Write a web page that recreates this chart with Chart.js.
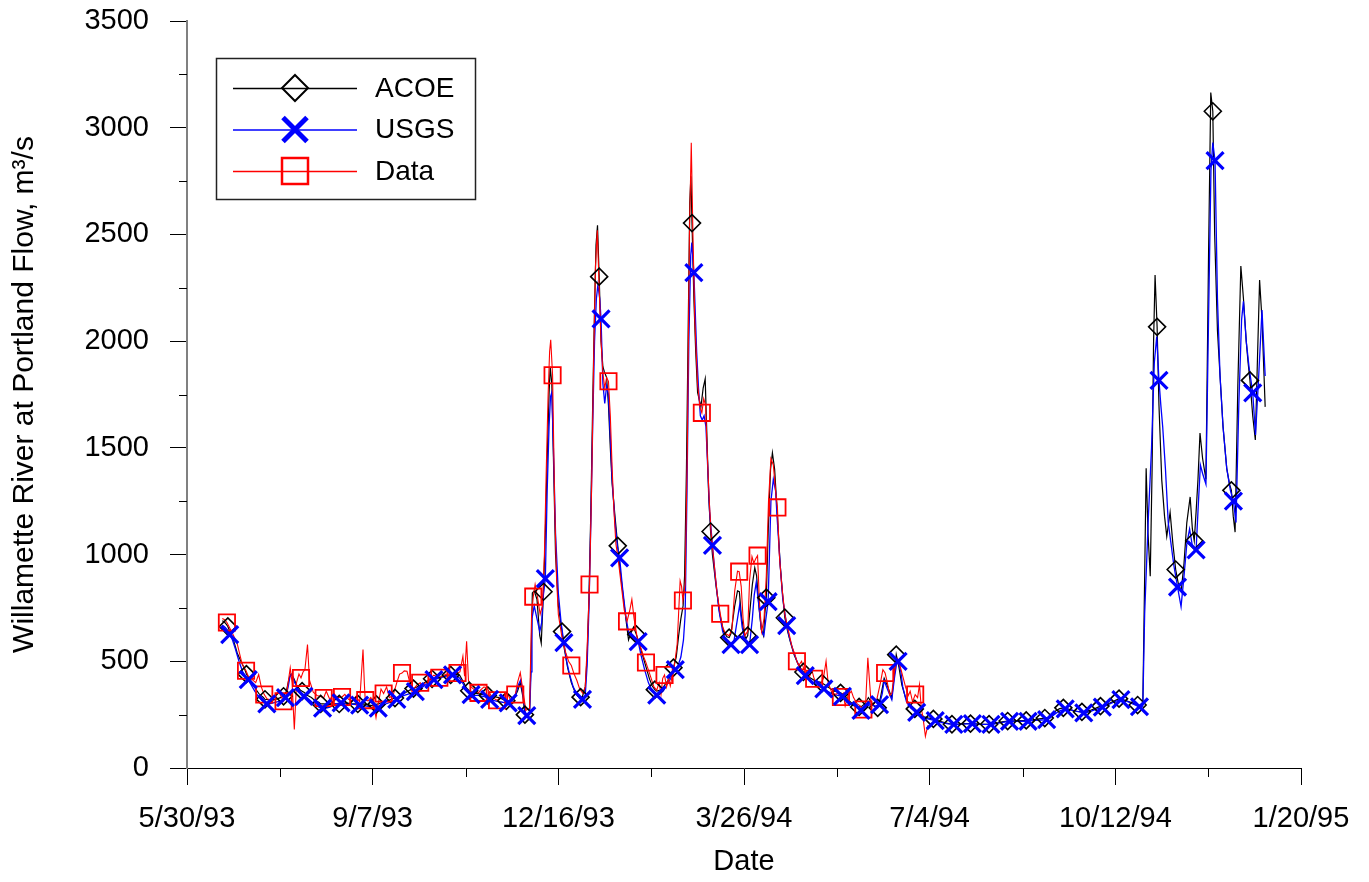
<!DOCTYPE html>
<html>
<head>
<meta charset="utf-8">
<script src="https://cdn.jsdelivr.net/npm/chart.js@4.4.1/dist/chart.umd.min.js"></script>
<style>
  html, body { margin: 0; padding: 0; background: #fff; }
  canvas { display: block; }
</style>
</head>
<body>
<canvas id="flow" width="1369" height="882"></canvas>
<script>
// x values are days counted from 5/30/93
var dateLabels = ['5/30/93', '9/7/93', '12/16/93', '3/26/94', '7/4/94', '10/12/94', '1/20/95'];
var seriesNames = ['ACOE', 'USGS', 'Data'];

// ACOE daily flow, m3/s  [day, flow]
var acoeLine = [[19,690],[20,685],[21,675],[23.5,630],[25,600],[27,540],[29,500],[31,465],[33.5,420],[35,400],[37,370],[39,345],[41,332],[43.5,320],[45,318],[47,320],[49,325],[51,332],[53.5,360],[55,420],[56,440],[57.5,420],[59,390],[61,365],[63,355],[65,340],[67,330],[69,315],[71,308],[73.5,300],[76,298],[79,300],[82.5,300],[86,305],[89,300],[92.5,298],[95,300],[98,295],[100,292],[103.5,302],[106,310],[109,318],[112.5,328],[115,340],[118,355],[120,365],[123.5,378],[126,390],[129,405],[133.5,420],[136,425],[139,432],[142.5,436],[145,440],[147,432],[149,400],[150.5,375],[153.5,355],[156,350],[159,345],[162.5,338],[165,335],[168,330],[171,318],[173.5,315],[176,325],[178,360],[179.5,400],[181,330],[183,245],[184.5,260],[185.3,500],[186,820],[187,830],[188.5,790],[190,620],[190.8,585],[193,1100],[194,1450],[195,1750],[195.6,1880],[196.5,1800],[197.5,1400],[198.5,1000],[200,760],[203,570],[205,470],[207,400],[209,355],[210.5,335],[213,335],[214.5,380],[215.5,520],[216.5,800],[217.5,1200],[218.5,1700],[219.5,2150],[220.3,2450],[221.1,2543],[223,2000],[224,1880],[224.8,1856],[226,1830],[227,1700],[228,1500],[229,1330],[230.5,1180],[233,950],[235,800],[236.5,690],[237.8,600],[239,630],[240.5,660],[243,600],[245,540],[247,480],[249,420],[250.5,385],[253,360],[255,365],[257,385],[259,410],[261,440],[263.5,520],[264.8,620],[266,700],[267.2,760],[268,900],[269,1400],[270,2100],[270.8,2650],[271.4,2773],[273,2200],[274,1950],[275,1760],[276.8,1692],[278,1780],[279.1,1823],[280,1560],[281,1270],[283,1000],[285,850],[287,720],[289,640],[290.8,615],[293,630],[295,760],[296.5,830],[297.5,826],[298.5,720],[300,630],[301,605],[303,720],[304.5,860],[305.8,938],[306.8,900],[308,760],[309.3,650],[310.5,620],[311.2,720],[313,1100],[314.3,1400],[315.3,1477],[316.5,1400],[318,1180],[319.5,950],[321,790],[323.5,640],[325,590],[327,530],[329,490],[331,460],[333.5,440],[336,420],[339,405],[341,402],[343.5,390],[346,375],[349,360],[351,355],[353.5,345],[356,320],[358.5,300],[361,288],[363,286],[365,300],[367,330],[368.5,310],[370,290],[371,285],[373.5,330],[375.5,420],[377,390],[379.6,328],[381,440],[383.5,470],[385,390],[387,330],[389,300],[393.5,265],[395,252],[397,240],[399,235],[403.5,225],[406,218],[409,210],[413.5,205],[416,206],[419,208],[423.5,208],[426,206],[429,205],[433.5,206],[436,210],[439,216],[443.5,220],[446,221],[449,222],[453.5,224],[456,226],[459,230],[463.5,236],[466,250],[468,268],[470,278],[473.5,280],[476,272],[479,266],[483.5,262],[486,268],[489,278],[493.5,292],[496,300],[499,312],[503.5,322],[506,315],[509,305],[513.5,292],[514.8,300],[515.8,900],[516.6,1404],[517.6,1100],[518.8,899],[519.8,1400],[520.6,2000],[521.4,2310],[523.5,1700],[525,1350],[526.5,1180],[527.7,1085],[529.5,1198],[531,1050],[534,860],[535.5,830],[537,960],[538.5,1150],[540.3,1270],[541.5,1120],[543.5,1200],[544.5,1350],[545.6,1569],[547,1450],[548.8,1352],[550.2,2400],[551.4,3165],[553.5,2500],[555,2050],[556.4,1837],[558,1600],[560,1404],[561.5,1330],[563.5,1180],[564.5,1105],[566,1800],[567.6,2352],[569,2200],[570.5,2000],[571.5,1900],[574,1650],[575.4,1537],[576.5,1900],[577.7,2286],[579,2100],[580.7,1692]];
var acoeMarkDays = [22,32,42,52,62,72,82,92,102,112,122,132,142,152,162,172,182,192,202,212,222,232,242,252,262,272,282,292,302,312,322,332,342,352,362,372,382,392,402,412,422,432,442,452,462,472,482,492,502,512,522.5,532.5,542.5,552.5,562.5,572.5];
var acoeMarkFlow = [663,440,322,336,360,300,300,300,298,328,372,418,436,362,340,315,250,826,639,332,2302,1041,626,367,470,2553,1108,611,620,798,704,450,398,352,286,282,531,277,230,205,208,205,220,223,234,282,263,290,325,295,2067,930,1065,3077,1301,1816];

// USGS daily flow, m3/s  [day, flow]
var usgsLine = [[19,670],[20.5,660],[22,645],[24.5,600],[26,560],[28,500],[30,450],[31.5,430],[34.5,390],[36.5,360],[38.5,335],[41,310],[44.5,300],[46.5,305],[48.5,310],[51,315],[54.5,380],[55.5,430],[56.5,440],[58,400],[60,370],[61.5,345],[64.5,330],[66.5,315],[68.5,300],[71,285],[74.5,280],[77,285],[80,300],[84.5,305],[87,300],[90,298],[94.5,292],[97,290],[100,282],[104.5,285],[107,300],[110,310],[114.5,330],[117,340],[120,348],[124.5,365],[127,380],[130,400],[134.5,418],[137,425],[140,432],[144.5,436],[147,420],[149,390],[151,360],[154.5,340],[157,340],[160,335],[164.5,318],[167,312],[170,308],[174.5,305],[176.5,330],[178.5,390],[179.8,414],[181,340],[182,270],[184.5,250],[185.3,450],[185.8,700],[187,760],[188.5,700],[190,640],[191,680],[191.8,800],[194,1300],[195,1600],[195.8,1740],[196.5,1760],[197.5,1450],[198.5,1100],[200,820],[201.5,680],[204.5,500],[206,440],[208,380],[210,345],[211.5,325],[214.5,340],[215.5,480],[216.5,750],[217.5,1150],[218.5,1600],[219.5,2000],[220.5,2200],[221.3,2263],[222.3,2200],[224,1800],[225,1708],[226,1790],[227,1750],[228,1550],[229,1350],[230.5,1150],[231.8,1040],[234.5,850],[236.5,700],[238,630],[240,610],[241.5,605],[244.5,530],[246.5,460],[248.5,400],[250.5,360],[254.5,345],[256.5,360],[258.5,390],[260.5,420],[262,450],[264.5,480],[266,520],[267.4,600],[268.3,720],[269.3,1300],[270.3,2000],[271.3,2400],[271.9,2462],[274.5,1950],[275.5,1780],[276.5,1650],[277.5,1630],[278.5,1650],[279.5,1600],[280.5,1400],[281.5,1200],[284.5,900],[286.5,740],[288.5,640],[290.5,590],[294.5,590],[296.5,700],[297.7,765],[299,660],[300.5,595],[301.5,580],[304.5,700],[305.5,810],[306.6,870],[308,760],[309.5,640],[310.7,620],[311.8,700],[314.5,1250],[315.8,1353],[317,1300],[318,1150],[319.5,950],[320.8,800],[324.5,610],[326.5,550],[328.5,500],[330.5,460],[334.5,420],[336.5,405],[338.5,395],[340.5,385],[344.5,362],[346.5,352],[348.5,345],[350.5,340],[354.5,320],[356.5,305],[358.5,295],[360.5,285],[362,275],[364.5,268],[366.5,290],[368.5,300],[370.5,290],[374.5,350],[375.5,410],[377,375],[379.6,320],[381,420],[382.2,490],[384.5,450],[385.5,380],[387.5,310],[390,280],[394.5,250],[396.5,238],[399,230],[404.5,218],[407,212],[410,207],[414.5,205],[417,206],[420,207],[424.5,207],[427,205],[430,204],[434.5,206],[437,210],[440,215],[444.5,219],[447,219],[450,219],[454.5,221],[457,223],[460,225],[464.5,232],[467,250],[470,268],[474.5,276],[477,270],[480,264],[484.5,260],[487,266],[490,276],[494.5,290],[497,300],[500,312],[504.5,318],[507,310],[510,298],[514.8,290],[515.8,724],[517.8,1177],[519.5,1500],[521,1900],[522.3,2022],[524.5,1700],[525.5,1600],[527,1400],[528.5,1150],[530,1050],[531.5,950],[535.4,756],[537,900],[538.5,1050],[540,1120],[541.5,1040],[544.5,1200],[545.8,1420],[547,1380],[548.8,1330],[550.2,2100],[551.5,2800],[552.5,2930],[555,2200],[556.4,1837],[558,1600],[560,1404],[562,1300],[565,1150],[566.5,1700],[568,2100],[569,2187],[570.5,2000],[572,1880],[575.5,1560],[577,1800],[579,2146],[580.7,1837]];
var usgsMarkDays = [23,33,43,53,63,73,83,93,103,113,123,133,143,153,163,173,183,193,203,213,223,233,243,253,263,273,283,293,303,313,323,333,343,353,363,373,383,393,403,413,423,433,443,453,463,473,483,493,503,513,523.5,533.5,543.5,553.7,563.6,574];
var usgsMarkFlow = [625,414,300,330,336,280,305,295,280,322,358,414,436,344,322,305,245,887,587,322,2104,985,592,341,461,2321,1043,578,578,779,667,433,371,336,270,297,500,261,222,204,208,204,219,219,227,277,258,285,320,287,1816,848,1022,2846,1250,1758];

// measured data, m3/s  [day, flow]
var dataLine = [[19,700],[20.3,695],[22.8,660],[24.5,630],[26.9,587],[29.6,490],[30.8,470],[33,430],[35,415],[37,400],[38.6,438],[40,380],[43,325],[45,318],[47,330],[49.3,360],[50.7,335],[53.5,340],[55.6,469],[56.6,400],[57.8,180],[59,400],[60.3,440],[62.5,450],[63.5,460],[64.9,578],[66,410],[68,355],[70,340],[72,335],[75,360],[77,320],[79,350],[81,330],[85,345],[87,322],[89,315],[91,335],[93,310],[94.8,555],[95.5,400],[97.5,315],[99,330],[100.5,300],[101.8,236],[103,300],[104.5,370],[107.5,380],[109,330],[111,340],[113,400],[114.5,440],[117,455],[118.5,453],[120,400],[122,370],[124,390],[127,385],[129,405],[131,420],[133,435],[137.5,430],[139.5,440],[141.5,430],[143.5,440],[147,450],[148.6,523],[149.5,430],[150.6,594],[151.6,410],[153,380],[155,365],[158.3,367],[160,380],[162,370],[164,335],[165.5,325],[168.5,330],[170.5,340],[172.5,350],[174.5,315],[178,400],[179.5,447],[180.8,370],[182.5,270],[184.5,280],[185.6,720],[187.5,860],[188.8,800],[190.2,720],[191.4,760],[192.5,1000],[193.5,1400],[194.5,1750],[195.3,1950],[195.9,2006],[198,1250],[199,900],[200,720],[202,610],[204,540],[205.5,500],[208.5,440],[210,410],[211.5,370],[213.2,350],[214.5,380],[215.5,560],[218,1350],[219,1900],[220,2350],[221,2520],[221.8,2300],[223,2000],[224,1850],[225,1780],[226,1830],[228,1650],[229,1400],[230,1200],[231,1050],[232.2,980],[234,850],[235.5,740],[238.5,740],[239.6,790],[240.8,700],[242.5,610],[244.5,560],[246,520],[248.5,460],[250,420],[251.5,380],[253,365],[254.3,400],[255.3,345],[256.2,420],[258.3,380],[259.3,420],[260.3,385],[261.3,430],[262.5,480],[264,580],[265.6,877],[266.4,850],[268.3,860],[269.5,1500],[270.6,2500],[271.6,2930],[272.5,2500],[273.5,2100],[275,1800],[276.3,1690],[278.3,1730],[279.3,1700],[280.3,1450],[281.3,1250],[282.3,1100],[284,950],[285.5,820],[288.5,660],[290,630],[292,620],[293.5,650],[295,830],[296.5,922],[298.5,850],[299.5,700],[300.5,620],[302,640],[303,880],[304.3,990],[305.3,960],[306.3,980],[308.3,780],[309.5,640],[310.8,700],[312,900],[313.2,1250],[314.5,1450],[315.8,1420],[317,1300],[319,1000],[320.3,860],[322,720],[324,640],[325.8,570],[327.5,530],[329.5,480],[331,500],[333,440],[335,420],[336.5,460],[339,400],[341,390],[342.8,420],[344.2,500],[345.3,400],[347,360],[349,345],[350.8,350],[353.5,350],[354.5,290],[356,340],[357.8,360],[359,330],[361,300],[362.8,290],[365.5,300],[366.7,516],[368.5,298],[370,300],[371.5,320],[373.5,400],[374.8,461],[377.2,400],[378.5,340],[379.6,350],[381,450],[382.5,510],[384,480],[385.5,430],[387,380],[388.5,340],[389.5,360],[390.8,310],[393.5,330],[394.5,390],[395.5,280],[396.5,230],[397.7,149],[399,200]];
var dataMarkDays = [21.5,31.8,41.6,52,61.4,73.6,83.5,96,105.9,115.8,125.6,135.9,145.7,157,167,176.8,186.5,196.9,207,216.8,227,237,247.2,257.2,267.1,277.3,287.2,297.4,307.3,318,328.5,337.8,352.2,364.3,376,392.2];
var dataMarkFlow = [682,456,344,313,422,328,333,318,349,445,399,423,445,352,317,344,803,1840,480,860,1812,687,494,436,785,1664,723,920,995,1221,500,418,333,274,445,344];

var FONT = "'Liberation Sans', Arial, sans-serif";

function lineWithMarks(line, days, vals) {
    var pts = line.map(function (p) { return { x: p[0], y: p[1] }; });
    days.forEach(function (d, i) { pts.push({ x: d, y: vals[i] }); });
    return pts.sort(function (a, b) { return a.x - b.x; });
}
function marks(days, vals) {
    return days.map(function (d, i) { return { x: d, y: vals[i] }; });
}

function drawMarker(ctx, style, x, y, s) {
    ctx.beginPath();
    if (style === 'diamond') {
        ctx.moveTo(x, y - s); ctx.lineTo(x + s, y); ctx.lineTo(x, y + s); ctx.lineTo(x - s, y); ctx.closePath();
    } else if (style === 'cross') {
        ctx.moveTo(x - s, y - s); ctx.lineTo(x + s, y + s);
        ctx.moveTo(x - s, y + s); ctx.lineTo(x + s, y - s);
    } else {
        ctx.rect(x - s, y - s, 2 * s, 2 * s);
    }
    ctx.stroke();
}

var extras = {
    id: 'extras',
    afterDraw: function (chart) {
        var ctx = chart.ctx, xs = chart.scales.x, ys = chart.scales.y;
        var area = chart.chartArea;
        ctx.save();
        // minor ticks
        ctx.strokeStyle = '#000';
        ctx.lineWidth = 1;
        ctx.beginPath();
        for (var d = 50; d < 600; d += 100) {
            var px = Math.round(xs.getPixelForValue(d)) + 0.5;
            ctx.moveTo(px, area.bottom); ctx.lineTo(px, area.bottom + 9);
        }
        for (var v = 250; v < 3500; v += 500) {
            var py = Math.round(ys.getPixelForValue(v)) + 0.5;
            ctx.moveTo(area.left, py); ctx.lineTo(area.left - 8, py);
        }
        ctx.stroke();

        // legend
        var bx = 216.5, by = 58.5, bw = 259, bh = 141;
        ctx.fillStyle = '#fff';
        ctx.fillRect(bx, by, bw, bh);
        ctx.strokeStyle = '#222';
        ctx.lineWidth = 1.5;
        ctx.strokeRect(bx, by, bw, bh);
        var rows = [88, 129.5, 171];
        var colors = ['#000000', '#0000ff', '#ff0000'];
        var styles = ['diamond', 'cross', 'square'];
        var sizes = [13, 12, 13];
        var widths = [2, 5, 2.5];
        for (var i = 0; i < 3; i++) {
            ctx.strokeStyle = colors[i];
            ctx.lineWidth = 1.3;
            ctx.beginPath();
            ctx.moveTo(233, rows[i] + 0.5); ctx.lineTo(357, rows[i] + 0.5);
            ctx.stroke();
            ctx.lineWidth = widths[i];
            drawMarker(ctx, styles[i], 295, rows[i], sizes[i]);
            ctx.fillStyle = '#000';
            ctx.font = '28px ' + FONT;
            ctx.textAlign = 'left';
            ctx.textBaseline = 'middle';
            ctx.fillText(seriesNames[i], 375, rows[i] + 1);
        }
        ctx.restore();
    }
};

var lineStyle = { pointRadius: 0, pointHoverRadius: 0, tension: 0, fill: false };

new Chart(document.getElementById('flow').getContext('2d'), {
    type: 'line',
    data: {
        datasets: [
            Object.assign({ label: 'ACOE', data: lineWithMarks(acoeLine, acoeMarkDays, acoeMarkFlow), borderColor: '#000000', borderWidth: 1.2, order: 6 }, lineStyle),
            Object.assign({ label: 'USGS', data: lineWithMarks(usgsLine, usgsMarkDays, usgsMarkFlow), borderColor: '#0000ff', borderWidth: 1.3, order: 5 }, lineStyle),
            Object.assign({ label: 'Data', data: lineWithMarks(dataLine, dataMarkDays, dataMarkFlow), borderColor: '#ff0000', borderWidth: 1.1, order: 4 }, lineStyle),
            { label: 'ACOE marks', data: marks(acoeMarkDays, acoeMarkFlow), showLine: false, pointStyle: 'rectRot', pointRadius: 8.5, pointBorderWidth: 1.6, pointBorderColor: '#000', pointBackgroundColor: 'rgba(0,0,0,0)', order: 3 },
            { label: 'Data marks', data: marks(dataMarkDays, dataMarkFlow), showLine: false, pointStyle: 'rect', pointRadius: 11.5, pointBorderWidth: 1.8, pointBorderColor: '#ff0000', pointBackgroundColor: 'rgba(0,0,0,0)', order: 2 },
            { label: 'USGS marks', data: marks(usgsMarkDays, usgsMarkFlow), showLine: false, pointStyle: 'crossRot', pointRadius: 12, pointBorderWidth: 3.2, pointBorderColor: '#0000ff', pointBackgroundColor: '#0000ff', order: 1 }
        ]
    },
    options: {
        responsive: false,
        animation: false,
        layout: { padding: { left: 0, right: 68, top: 21, bottom: 0 } },
        plugins: { legend: { display: false }, tooltip: { enabled: false } },
        scales: {
            x: {
                type: 'linear', min: 0, max: 600,
                afterFit: function (s) { s.height = 114; },
                grid: { drawOnChartArea: false, tickLength: 17, color: '#000', lineWidth: 1 },
                border: { display: true, color: '#000', width: 1 },
                ticks: {
                    stepSize: 100, padding: 17, maxRotation: 0, autoSkip: false, color: '#000',
                    font: { family: FONT, size: 29 },
                    callback: function (v) { return dateLabels[Math.round(v / 100)]; }
                },
                title: { display: true, text: 'Date', color: '#000', font: { family: FONT, size: 29 }, padding: { top: 0, bottom: 3 } }
            },
            y: {
                min: 0, max: 3500,
                afterFit: function (s) { s.width = 187; s.paddingTop = 0; s.paddingBottom = 0; },
                grid: { drawOnChartArea: false, tickLength: 17, color: '#000', lineWidth: 1 },
                border: { display: true, color: '#808080', width: 2 },
                ticks: {
                    stepSize: 500, padding: 21, color: '#000',
                    font: { family: FONT, size: 29 },
                    callback: function (v) { return String(v); }
                },
                title: { display: true, text: 'Willamette River at Portland Flow, m³/s', color: '#000', font: { family: FONT, size: 30 }, padding: { top: 7, bottom: 0 } }
            }
        }
    },
    plugins: [extras]
});
</script>
</body>
</html>
